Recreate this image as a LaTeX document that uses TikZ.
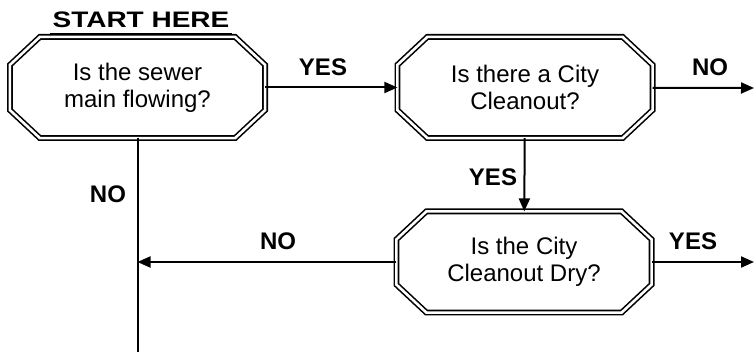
\documentclass[tikz,border=0pt]{standalone}
\usepackage{fontspec}
\setmainfont{Liberation Sans}
\newfontfamily\widefont[FakeStretch=1.25]{Liberation Sans}
\usetikzlibrary{arrows.meta}
\tikzset{
  query/.style={rectangle, minimum width=124.6pt, minimum height=47.6pt,
    inner sep=0pt, outer sep=1.5pt, align=center, font=\fontsize{12}{13.5}\selectfont},
  rim/.style={line width=0.8pt, double=white, double distance=1.3pt},
  answer/.style={anchor=base, inner sep=0pt, font=\fontsize{12}{14}\selectfont\bfseries},
  flow/.style={line width=1pt, -{Triangle[length=6.5pt,width=5.5pt]}}
}
% double octagon round a query node
\newcommand\octrim[1]{%
  \draw[rim] ([xshift=15pt]#1.north west) -- ([xshift=-15pt]#1.north east)
    -- ([yshift=-14pt]#1.north east) -- ([yshift=14pt]#1.south east)
    -- ([xshift=-15pt]#1.south east) -- ([xshift=15pt]#1.south west)
    -- ([yshift=14pt]#1.south west) -- ([yshift=-14pt]#1.north west) -- cycle;}
\begin{document}
\begin{tikzpicture}[x=0.5pt,y=-0.5pt]
  \useasboundingbox (0,0) rectangle (756,352);
  % the three questions
  \node[query] (sewer) at (137.5,87.5) {Is the sewer\\main flowing?};
  \node[query] (cleanout) at (525,87.5) {Is there a City\\Cleanout?};
  \node[query] (dry) at (524,262) {Is the City\\Cleanout Dry?};
  \octrim{sewer}
  \octrim{cleanout}
  \octrim{dry}
  \node[anchor=base, inner xsep=1pt, inner ysep=2.5pt,
    font=\widefont\fontsize{11.2}{13}\selectfont\bfseries] (start) at (141,28) {START HERE};
  \draw[line width=0.8pt] (start.south west) -- (start.south east);
  % free ends
  \coordinate (down) at (137.5,352);
  \coordinate (join) at (137.5,262);
  \coordinate (out1) at (754,88);
  \coordinate (out2) at (754,262);
  % answers
  \node[answer] (yes1) at (323,76) {YES};
  \node[answer] (no1) at (710,76) {NO};
  \node[answer] (yes2) at (493,186) {YES};
  \node[answer] (no2) at (108,203) {NO};
  \node[answer] (no3) at (278,250) {NO};
  \node[answer] (yes3) at (693,250) {YES};
  \begin{scope}[flow]
    \draw (sewer) to (cleanout);
    \draw (cleanout) to (out1);
    \draw (cleanout) to (dry);
    \draw (dry) to (join);
    \draw (dry) to (out2);
    \draw[-] (sewer) to (down);
  \end{scope}
\end{tikzpicture}
\end{document}
